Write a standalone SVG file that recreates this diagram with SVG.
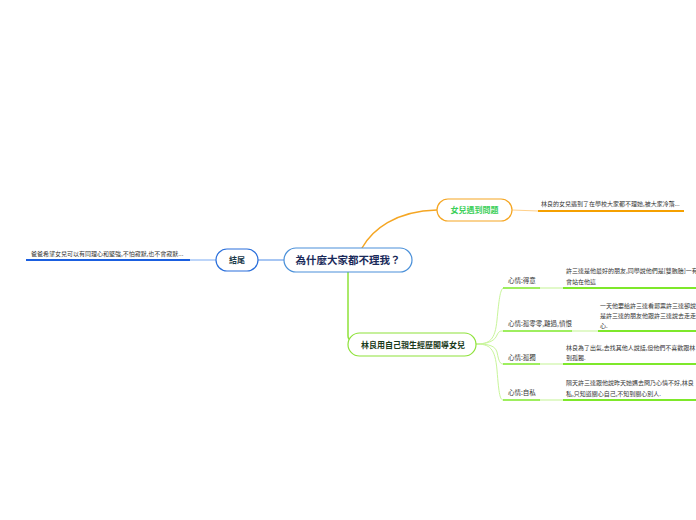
<svg xmlns="http://www.w3.org/2000/svg" width="696" height="520" viewBox="0 0 696 520">
<style>
text{font-family:"Noto Sans CJK TC","Noto Sans CJK SC",sans-serif}
.c{fill:none;stroke-linecap:round}
.sm{font-size:6px;fill:#333}
.lb{font-size:6.5px;fill:#333}
.nd{font-size:8px;font-weight:bold}
</style>
<rect width="696" height="520" fill="#fff"/>
<g id="connectors">
<path class="c" d="M362 248 C372 230 395 211 437 210" stroke="#f5a623" stroke-width="1.5"/>
<path class="c" d="M512 210 L538 211" stroke="#ffd08a" stroke-width="1"/>
<path class="c" d="M284 260 L258 260" stroke="#8ab4f0" stroke-width="1.5"/>
<path class="c" d="M216 260 L190 260" stroke="#a8c8f8" stroke-width="1.5"/>
<path class="c" d="M348 272 L348 336 Q348 340 352 340" stroke="#8ee23a" stroke-width="1.5"/>
<path class="c" d="M476 344 C490 344 495 340 497 320 C499 300 500 290 503 288" stroke="#c8f59a" stroke-width="1"/>
<path class="c" d="M476 344 C490 344 495 340 497 335 C499 331 500 331 503 331" stroke="#c8f59a" stroke-width="1"/>
<path class="c" d="M476 344 C490 344 495 346 497 352 C499 362 500 364 503 364" stroke="#c8f59a" stroke-width="1"/>
<path class="c" d="M476 344 C490 344 495 348 497 370 C499 395 500 400 503 400" stroke="#c8f59a" stroke-width="1"/>
<path class="c" d="M540 288 L563 288" stroke="#d8f7b8" stroke-width="1.5"/>
<path class="c" d="M572 331 L598 331" stroke="#d8f7b8" stroke-width="1.5"/>
<path class="c" d="M540 364 L563 364" stroke="#d8f7b8" stroke-width="1.5"/>
<path class="c" d="M540 400 L563 400" stroke="#d8f7b8" stroke-width="1.5"/>
</g>
<g id="center">
<rect x="284" y="248" width="128" height="24" rx="12" fill="#fff" stroke="#4a90d9" stroke-width="1.2"/>
<text x="348" y="264" text-anchor="middle" font-size="10.5" font-weight="bold" fill="#1a2a5a">為什麼大家都不理我？</text>
</g>
<g id="n-problem">
<rect x="437" y="199" width="75" height="22" rx="11" fill="#fff" stroke="#f5a623" stroke-width="1.2"/>
<text x="474.5" y="213" text-anchor="middle" class="nd" font-weight="normal" fill="#3ccf5a">女兒遇到問題</text>
</g>
<g id="n-problem-text">
<text x="541" y="206" class="sm">林良的女兒遇到了在學校大家都不理她,被大家冷落...</text>
<line x1="538" y1="211" x2="684" y2="211" stroke="#f5a000" stroke-width="2"/>
</g>
<g id="n-end">
<rect x="216" y="249" width="42" height="22" rx="11" fill="#fff" stroke="#2a6fdb" stroke-width="1.2"/>
<text x="237" y="263" text-anchor="middle" class="nd" fill="#1a3a4a">結尾</text>
</g>
<g id="n-end-text">
<text x="31" y="256" class="sm">爸爸希望女兒可以有同理心和堅強,不怕寂默,也不會寂默...</text>
<line x1="26" y1="260" x2="190" y2="260" stroke="#1a5fe0" stroke-width="2"/>
</g>
<g id="n-story">
<rect x="348" y="333" width="128" height="23" rx="11.5" fill="#fff" stroke="#8ee23a" stroke-width="1.2"/>
<text x="413" y="347.5" text-anchor="middle" class="nd" fill="#1a3a1a">林良用自己親生經歷開導女兒</text>
</g>
<g id="s1">
<text x="508" y="283" class="lb">心情:得意</text>
<line x1="503" y1="288" x2="540" y2="288" stroke="#7ee82a" stroke-width="1.5"/>
<text x="566" y="273" class="sm">許三達是他最好的朋友,同學說他們是[雙胞胎]一有</text>
<text x="566" y="284" class="sm">會站在他這</text>
<line x1="563" y1="288" x2="696" y2="288" stroke="#7ee82a" stroke-width="2"/>
</g>
<g id="s2">
<text x="508" y="326" class="lb">心情:孤零零,難過,憤恨</text>
<line x1="503" y1="331" x2="572" y2="331" stroke="#7ee82a" stroke-width="1.5"/>
<text x="600" y="308" class="sm">一天他要給許三達看郵票許三達卻說</text>
<text x="600" y="318" class="sm">是許三達的朋友他跟許三達說去走走</text>
<text x="600" y="328" class="sm">心.</text>
<line x1="598" y1="331" x2="696" y2="331" stroke="#7ee82a" stroke-width="2"/>
</g>
<g id="s3">
<text x="508" y="360" class="lb">心情:孤獨</text>
<line x1="503" y1="364" x2="540" y2="364" stroke="#7ee82a" stroke-width="1.5"/>
<text x="566" y="350" class="sm">林良為了出氣,去找其他人說話,但他們不喜歡跟林</text>
<text x="566" y="360" class="sm">到孤獨.</text>
<line x1="563" y1="364" x2="696" y2="364" stroke="#7ee82a" stroke-width="2"/>
</g>
<g id="s4">
<text x="508" y="395" class="lb">心情:自私</text>
<line x1="503" y1="400" x2="540" y2="400" stroke="#7ee82a" stroke-width="1.5"/>
<text x="566" y="385" class="sm">隔天許三達跟他說昨天她媽去問乃心情不好,林良</text>
<text x="566" y="396" class="sm">私,只知道關心自己,不知到關心別人.</text>
<line x1="563" y1="400" x2="696" y2="400" stroke="#7ee82a" stroke-width="2"/>
</g>
</svg>
